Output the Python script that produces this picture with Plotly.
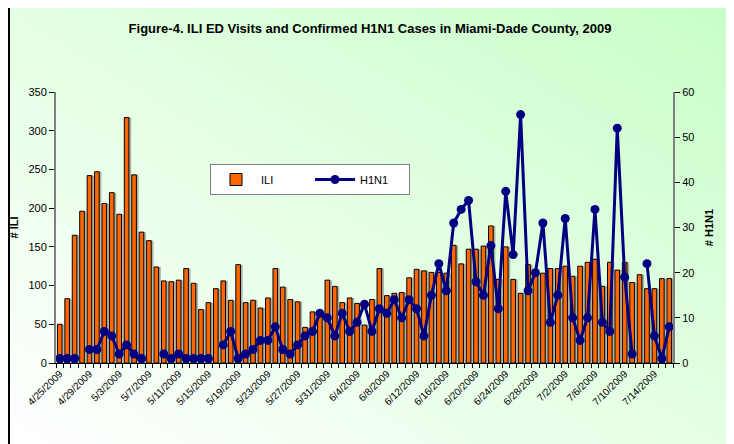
import base64
import plotly.graph_objects as go

dates = [
    "4/25/2009", "4/26/2009", "4/27/2009", "4/28/2009", "4/29/2009", "4/30/2009",
    "5/1/2009", "5/2/2009", "5/3/2009", "5/4/2009", "5/5/2009", "5/6/2009", "5/7/2009",
    "5/8/2009", "5/9/2009", "5/10/2009", "5/11/2009", "5/12/2009", "5/13/2009", "5/14/2009",
    "5/15/2009", "5/16/2009", "5/17/2009", "5/18/2009", "5/19/2009", "5/20/2009", "5/21/2009",
    "5/22/2009", "5/23/2009", "5/24/2009", "5/25/2009", "5/26/2009", "5/27/2009", "5/28/2009",
    "5/29/2009", "5/30/2009", "5/31/2009", "6/1/2009", "6/2/2009", "6/3/2009", "6/4/2009",
    "6/5/2009", "6/6/2009", "6/7/2009", "6/8/2009", "6/9/2009", "6/10/2009", "6/11/2009",
    "6/12/2009", "6/13/2009", "6/14/2009", "6/15/2009", "6/16/2009", "6/17/2009", "6/18/2009",
    "6/19/2009", "6/20/2009", "6/21/2009", "6/22/2009", "6/23/2009", "6/24/2009", "6/25/2009",
    "6/26/2009", "6/27/2009", "6/28/2009", "6/29/2009", "6/30/2009", "7/1/2009", "7/2/2009",
    "7/3/2009", "7/4/2009", "7/5/2009", "7/6/2009", "7/7/2009", "7/8/2009", "7/9/2009",
    "7/10/2009", "7/11/2009", "7/12/2009", "7/13/2009", "7/14/2009", "7/15/2009", "7/16/2009",
]

ili = [
    50, 83, 165, 196, 242, 247, 206, 220, 192, 317, 243, 169, 158, 124,
    106, 105, 107, 122, 103, 69, 78, 96, 106, 81, 127, 78, 81, 71, 84,
    122, 98, 82, 79, 46, 66, 62, 107, 99, 78, 84, 77, 49, 82, 122,
    87, 90, 91, 110, 121, 119, 117, 117, 116, 152, 128, 147, 147, 151,
    177, 108, 150, 108, 90, 127, 114, 116, 122, 122, 125, 112, 125, 130,
    134, 99, 130, 120, 130, 104, 114, 96, 96, 109, 109,
]

h1n1 = [
    1, 1, 1, None, 3, 3, 7, 6, 2, 4, 2, 1, None, None,
    2, 1, 2, 1, 1, 1, 1, None, 4, 7, 1, 2, 3, 5, 5,
    8, 3, 2, 4, 6, 7, 11, 10, 6, 11, 7, 9, 13, 7, 12,
    11, 14, 10, 14, 12, 6, 15, 22, 16, 31, 34, 36, 18, 15,
    26, 12, 38, 24, 55, 16, 20, 31, 9, 15, 32, 10, 5, 10,
    34, 9, 7, 52, 19, 2, None, 22, 6, 1, 8,
]

tick_labels = dates[::4]
tick_text = [d if d in tick_labels else "" for d in dates]

FONT = "Arial, Liberation Sans, sans-serif"

# figure sits at page offset (8, 8); plot area in figure px
W, H = 726, 436
PL, PR, PT, PB = 48, 665, 84, 355
PW, PH = PR - PL, PB - PT


def px_x(x):
    return (x - PL) / PW


def px_y(y):
    return (PB - y) / PH


svg = (
    "<svg xmlns='http://www.w3.org/2000/svg' width='726' height='436' preserveAspectRatio='none'>"
    "<defs><linearGradient id='g' x1='0' y1='1' x2='1' y2='0'>"
    "<stop offset='0' stop-color='#ffffff'/>"
    "<stop offset='1' stop-color='#c8ffc8'/>"
    "</linearGradient></defs>"
    "<rect width='100%' height='100%' fill='url(#g)'/></svg>"
)
bg_src = "data:image/svg+xml;base64," + base64.b64encode(svg.encode()).decode()

BAR_W = 0.62

fig = go.Figure()

# soft drop shadow behind the bars (same values, shifted slightly right)
fig.add_trace(go.Bar(
    x=dates, y=ili, name="shadow", showlegend=False, hoverinfo="skip",
    marker=dict(color="rgba(90,90,90,0.45)", line=dict(width=0)),
    width=BAR_W, offset=-BAR_W / 2 + 0.3,
))

fig.add_trace(go.Bar(
    x=dates, y=ili, name="ILI",
    marker=dict(color="#FF6600", line=dict(color="black", width=1)),
    width=BAR_W, offset=-BAR_W / 2,
))

fig.add_trace(go.Scatter(
    x=dates, y=h1n1, name="H1N1", yaxis="y2",
    mode="lines+markers",
    line=dict(color="#000080", width=3),
    marker=dict(color="#000080", size=9),
    connectgaps=False,
))

fig.update_layout(
    width=W, height=H,
    barmode="overlay",
    margin=dict(l=PL, r=W - PR, t=PT, b=H - PB, autoexpand=False),
    paper_bgcolor="white",
    plot_bgcolor="rgba(0,0,0,0)",
    font=dict(family=FONT, size=11, color="black"),
    title=dict(
        text="<b>Figure-4. ILI ED Visits and Confirmed H1N1 Cases in Miami-Dade County, 2009</b>",
        x=362 / W, xanchor="center", y=1 - 20 / H, yanchor="middle",
        xref="container",
        font=dict(family=FONT, size=13, color="black"),
    ),
    showlegend=True,
    legend=dict(
        orientation="h", x=px_x(202), y=px_y(156), xanchor="left", yanchor="top",
        bgcolor="white", bordercolor="#808080", borderwidth=1,
        font=dict(family=FONT, size=11), itemwidth=40,
        entrywidth=44,
    ),
    xaxis=dict(
        type="category",
        tickmode="array", tickvals=dates, ticktext=tick_text,
        tickson="boundaries",
        tickangle=-45, ticks="outside", ticklen=4, tickcolor="black",
        showline=True, linecolor="black", linewidth=1,
        showgrid=False, zeroline=False,
        tickfont=dict(family=FONT, size=10),
        range=[-0.5, len(dates) - 0.5],
    ),
    yaxis=dict(
        range=[0, 350], dtick=50, ticks="outside", ticklen=5, tickcolor="black",
        showline=True, linecolor="#808080", linewidth=2,
        showgrid=False, zeroline=False,
        title=dict(text="<b># ILI</b>", font=dict(family=FONT, size=11), standoff=14),
        tickfont=dict(family=FONT, size=11),
    ),
    yaxis2=dict(
        range=[0, 60], dtick=10, overlaying="y", side="right",
        ticks="outside", ticklen=5, tickcolor="black",
        showline=True, linecolor="#808080", linewidth=2,
        showgrid=False, zeroline=False,
        title=dict(text="<b># H1N1</b>", font=dict(family=FONT, size=11), standoff=12),
        tickfont=dict(family=FONT, size=11),
    ),
    images=[dict(
        source=bg_src, xref="paper", yref="paper",
        x=px_x(0), y=px_y(0), sizex=W / PW, sizey=H / PH,
        xanchor="left", yanchor="top", sizing="stretch", layer="below",
    )],
    shapes=[
        dict(type="line", xref="paper", yref="paper",
             x0=px_x(1), x1=px_x(1), y0=px_y(H), y1=px_y(0),
             line=dict(color="black", width=2)),
        dict(type="line", xref="paper", yref="paper",
             x0=px_x(723), x1=px_x(723), y0=px_y(H), y1=px_y(0),
             line=dict(color="black", width=2)),
        dict(type="line", xref="paper", yref="paper",
             x0=px_x(721), x1=px_x(721), y0=px_y(H), y1=px_y(0),
             line=dict(color="#FFFF00", width=2)),
    ],
)

fig.write_html("out.html")
